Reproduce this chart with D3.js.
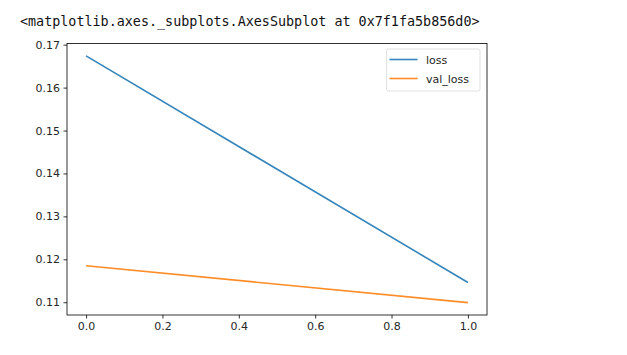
<!DOCTYPE html>
<html><head><meta charset="utf-8">
<script src="https://cdn.jsdelivr.net/npm/d3@7"></script>
<style>body{margin:0;background:#fff}svg{display:block}</style>
</head><body>
<svg id="c" width="627" height="355"></svg>
<script>
const header = "<matplotlib.axes._subplots.AxesSubplot at 0x7f1fa5b856d0>";
const epochs = [0, 1];
const loss = [0.1674, 0.1146];
const valLoss = [0.1185, 0.1099];
const seriesNames = ["loss", "val_loss"];
const colors = ["#1f77b4", "#ff7f0e"];
const xTicks = [0.0, 0.2, 0.4, 0.6, 0.8, 1.0];
const yTicks = [0.11, 0.12, 0.13, 0.14, 0.15, 0.16, 0.17];

const svg = d3.select("#c");
svg.append("text").attr("x", 20).attr("y", 25.5)
  .attr("font-family", "DejaVu Sans Mono, Liberation Mono, monospace")
  .attr("font-size", 13.4).attr("fill", "#111").text(header);

const L = 67, R = 487, T = 43.5, B = 315;
const allY = loss.concat(valLoss);
const ymin = d3.min(allY), ymax = d3.max(allY), yr = ymax - ymin;
const x = d3.scaleLinear().domain([-0.05, 1.05]).range([L, R]);
const y = d3.scaleLinear().domain([ymin - 0.05 * yr, ymax + 0.05 * yr]).range([B, T]);

const font = "DejaVu Sans, sans-serif";
const xAxis = svg.append("g").attr("transform", `translate(0,${B})`)
  .call(d3.axisBottom(x).tickValues(xTicks).tickFormat(d3.format(".1f")).tickSize(3.5).tickPadding(3.5));
const yAxis = svg.append("g").attr("transform", `translate(${L},0)`)
  .call(d3.axisLeft(y).tickValues(yTicks).tickFormat(d3.format(".2f")).tickSize(3.5).tickPadding(3.5));
[xAxis, yAxis].forEach(a => {
  a.select(".domain").remove();
  a.selectAll("line").attr("stroke", "#000").attr("stroke-width", 0.8);
  a.selectAll("text").attr("font-family", font).attr("font-size", 11).attr("fill", "#262626");
});

const line = d3.line().x((d, i) => x(epochs[i])).y(d => y(d));
[loss, valLoss].forEach((s, k) => {
  svg.append("path").datum(s).attr("d", line).attr("fill", "none")
    .attr("stroke", colors[k]).attr("stroke-width", 1.6).attr("stroke-opacity", 0.9);
});

svg.append("rect").attr("x", L).attr("y", T).attr("width", R - L).attr("height", B - T)
  .attr("fill", "none").attr("stroke", "#000").attr("stroke-width", 0.8);

// legend
const lg = svg.append("g");
lg.append("rect").attr("x", 386.5).attr("y", 49).attr("width", 93.5).attr("height", 42)
  .attr("rx", 2).attr("fill", "#fff").attr("fill-opacity", 0.8).attr("stroke", "#d9d9d9").attr("stroke-width", 0.8);
seriesNames.forEach((n, k) => {
  const yy = 59.5 + k * 19;
  lg.append("line").attr("x1", 389.5).attr("x2", 417.5).attr("y1", yy).attr("y2", yy)
    .attr("stroke", colors[k]).attr("stroke-width", 1.6).attr("stroke-opacity", 0.9);
  lg.append("text").attr("x", 426).attr("y", yy + 4).attr("font-family", font)
    .attr("font-size", 11).attr("fill", "#262626").text(n);
});
</script>
</body></html>
